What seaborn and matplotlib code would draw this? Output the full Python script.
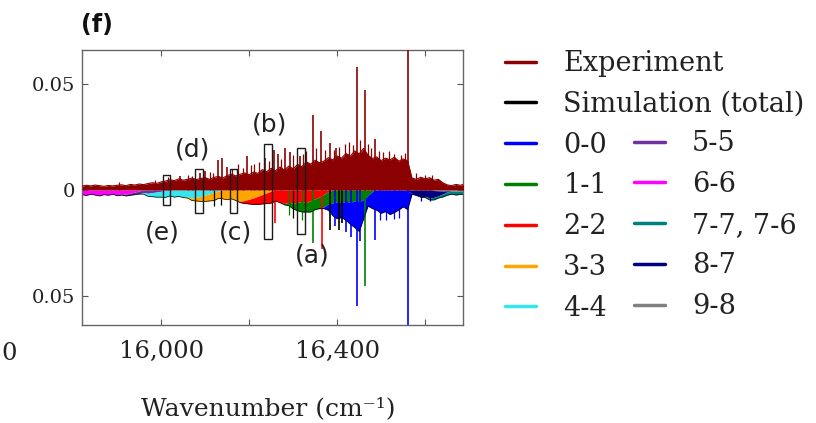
import numpy as np
import pandas as pd
import matplotlib
matplotlib.use("Agg")
import matplotlib.pyplot as plt
import seaborn as sns
from matplotlib.lines import Line2D
from matplotlib.patches import Rectangle

# ---------------- data ----------------
wavenumber = [
    15820, 15830, 15840, 15850, 15860, 15870, 15880, 15890, 15900, 15910,
    15920, 15930, 15940, 15950, 15960, 15970, 15980, 15990, 16000, 16010,
    16020, 16030, 16040, 16050, 16060, 16070, 16080, 16090, 16100, 16110,
    16120, 16130, 16140, 16150, 16160, 16170, 16180, 16190, 16200, 16210,
    16220, 16230, 16240, 16250, 16260, 16270, 16280, 16290, 16300, 16310,
    16320, 16330, 16340, 16350, 16360, 16370, 16380, 16390, 16400, 16410,
    16420, 16430, 16440, 16450, 16460, 16470, 16480, 16490, 16500, 16510,
    16520, 16530, 16540, 16550, 16560, 16570, 16580, 16590, 16600, 16610,
    16620, 16630, 16640, 16650, 16660, 16670, 16680, 16690]

# experimental envelope (x 1e-3)
experiment = [
    1.8, 2.2, 1.9, 2.3, 2.0, 1.7, 2.1, 1.9, 2.2,
    2.4, 2.0, 2.6, 2.3, 2.8, 2.5, 3.0, 3.4, 3.1, 3.8,
    4.2, 4.8, 4.4, 5.2, 4.6, 5.0, 5.6, 4.9, 5.4, 5.8,
    5.0, 5.9, 6.4, 5.6, 6.8, 7.4, 6.6, 7.4, 8.0, 7.2,
    8.4, 7.8, 9.6, 8.6, 10.2, 9.0, 10.8, 9.4, 11.2, 10.0,
    12.0, 11.0, 13.2, 12.2, 14.0, 12.8, 13.6, 15.2, 14.2, 16.0,
    15.0, 17.2, 16.0, 18.4, 17.0, 19.6, 16.4, 14.8, 15.6, 13.8,
    15.0, 14.2, 15.4, 13.6, 14.6, 13.8,
    5.6, 5.0, 6.0, 5.2, 5.8, 4.6, 5.0, 3.4,
    2.4, 2.0, 2.6, 2.2, 2.8]

# sharp experimental lines: position, height (x 1e-3)
exp_line_pos = [16043, 16088, 16100, 16129, 16138, 16150, 16195, 16236, 16256,
                16265, 16281, 16293, 16315, 16345, 16363, 16384, 16398, 16445,
                16463, 16486, 16561]
exp_line_val = [6.6, 8.0, 9.0, 14.0, 15.0, 11.0, 16.0, 15.0, 19.0,
                17.0, 20.0, 18.0, 16.0, 35.5, 28.0, 22.0, 20.0, 58.0,
                47.0, 24.0, 90.0]
# weaker experimental lines (x 1e-3)
exp_weak_pos = [15905, 15985, 16015, 16060, 16070, 16110, 16118, 16160, 16175,
                16185, 16205, 16212, 16222, 16245, 16272, 16300, 16322, 16330,
                16352, 16372, 16392, 16405, 16418, 16428, 16437, 16452, 16470,
                16478, 16495, 16505, 16518, 16530, 16545, 16555, 16580, 16600,
                16615]
exp_weak_val = [3.6, 4.6, 6.0, 7.0, 6.8, 8.6, 8.0, 10.0, 12.0,
                10.4, 11.6, 12.4, 13.0, 13.6, 14.6, 16.6, 17.0, 18.2,
                19.6, 18.8, 19.0, 20.4, 21.6, 22.8, 21.0, 23.6, 21.8,
                19.6, 18.6, 18.0, 18.2, 17.0, 16.4, 17.2, 8.0, 7.2,
                7.0]

# simulated vibronic bands: start wavenumber and depth of each layer (x 1e-3)
band_labels = ["0-0", "1-1", "2-2", "3-3", "4-4",
               "5-5", "6-6", "7-7, 7-6", "8-7", "9-8"]
band_colors = ["#0000FF", "#008000", "#FF0000", "#FFA500", "#33E6F0",
               "#7030A0", "#FF00FF", "#008080", "#000080", "#808080"]
band_start = [16370, 16280, 16180, 16060, 15960,
              15900, 15820, 16600, 16560, 16620]
band_00 = [0.8, 3.0, 6.0, 8.0, 7.0, 9.0, 10.4, 12.6, 14.0, 9.0, 5.0,
           8.0, 9.6, 11.0, 10.2, 11.6, 10.6, 9.4, 8.0, 8.8, 0.4]
band_11 = [0.6, 1.6, 2.8, 4.0, 5.0, 4.4, 5.4, 5.0, 5.6, 6.0, 5.8,
           6.2, 5.6, 6.0, 5.4, 5.8, 5.2, 5.6, 4.6, 2.6, 0.8]
band_22 = [0.6, 1.4, 2.2, 3.0, 3.8, 4.4, 5.0, 5.6, 5.2, 6.0, 6.4,
           5.8, 6.2, 5.8, 5.4, 6.0, 5.0, 4.2, 3.2, 2.0, 0.8]
band_33 = [0.6, 1.2, 1.8, 2.4, 3.0, 3.4, 3.8, 3.4, 4.2, 4.6,
           4.2, 5.0, 5.4, 5.0, 4.4, 3.8, 3.0, 2.2, 1.4, 0.6]
band_44 = [0.8, 1.4, 2.0, 2.4, 2.8, 3.2, 2.8, 3.4, 3.0,
           3.6, 3.2, 3.8, 3.4, 3.0, 2.4, 1.8, 1.2, 0.6]
band_55 = [0.4, 0.6, 0.8, 1.0, 1.2, 1.4, 1.2, 1.6, 1.2, 1.0, 0.6, 0.3]
band_66 = [2.2, 2.6, 2.0, 2.4, 2.8, 2.2, 2.5, 2.0, 2.3, 1.8, 2.0, 1.5, 1.0, 0.5]
band_77 = [0.6, 0.9, 1.2, 1.0, 1.4, 1.6, 1.4, 1.8, 1.6, 1.5]
band_87 = [0.4, 1.6, 2.6, 3.4, 3.0, 3.8, 3.2, 2.4, 1.4, 0.5]
band_98 = [0.3, 0.4, 0.5, 0.4, 0.6, 0.6, 0.5, 0.6]
band_values = [band_00, band_11, band_22, band_33, band_44,
               band_55, band_66, band_77, band_87, band_98]

# sharp simulated lines: position, depth (x 1e-3), band index (-1 = total)
sim_line_pos = [16445, 16463, 16345, 16366, 16486, 16561, 16384, 16411, 16259,
                16120, 16135, 16290, 16300, 16320, 16395, 16405, 16420, 16432,
                16452, 16497, 16512, 16530, 16540, 16590, 16610]
sim_line_val = [54.7, 45.3, 25.0, 28.0, 23.6, 90.0, 19.0, 15.6, 15.6,
                7.6, 7.0, 12.0, 13.0, 14.0, 17.0, 19.0, 20.0, 22.0,
                24.0, 14.0, 14.4, 13.6, 13.0, 5.0, 5.4]
sim_line_band = [0, 1, 1, 2, 0, 0, -1, -1, 2,
                 -1, -1, 1, -1, 1, 0, -1, 0, 0,
                 0, 0, 0, 0, 0, 8, 8]

# highlighted regions (a)-(e): x0, width, top/bottom (x 1e-3)
box_labels = ["(a)", "(b)", "(c)", "(d)", "(e)"]
box_x0 = [16309, 16234, 16157, 16077, 16004]
box_w = [18, 18, 16, 18, 16]
box_top = [19.8, 21.7, 9.9, 9.9, 7.1]
box_bot = [-20.8, -23.1, -10.9, -10.9, -7.1]
box_label_x = [16343, 16247, 16168, 16072, 16002]
box_label_y = [-31.1, 30.7, -20.3, 18.9, -20.3]

xticks = [16000, 16200, 16400, 16600]
xtick_labels = ["16,000", "", "16,400", ""]
yticks = [-0.05, 0.0, 0.05]
ytick_labels = ["0.05", "0", "0.05"]

# ---------------- build frames ----------------
x = np.array(wavenumber, dtype=float)
scale = 1e-3
df_exp = pd.DataFrame({"wn": x, "I": np.array(experiment) * scale})

layers = {}
for lab, st, vals in zip(band_labels, band_start, band_values):
    arr = np.zeros(len(x))
    i0 = wavenumber.index(st)
    arr[i0:i0 + len(vals)] = np.array(vals) * scale
    layers[lab] = arr
total = -sum(layers.values())
df_tot = pd.DataFrame({"wn": x, "I": total})

# ---------------- figure ----------------
sns.set_theme(style="ticks")
plt.rcParams["font.family"] = ["DejaVu Serif", "DejaVu Sans"]
W, H = 816, 423
fig = plt.figure(figsize=(W / 100, H / 100), dpi=100)
ax = fig.add_axes([82 / W, 1 - 325 / H, (463 - 82) / W, (325 - 50) / H])

EXP = "#8B0000"
# experiment
ax.fill_between(df_exp["wn"], 0, df_exp["I"], color=EXP, lw=0, zorder=3)
sns.lineplot(data=df_exp, x="wn", y="I", color=EXP, lw=0.8,
             estimator=None, ax=ax, zorder=3)
ax.vlines(exp_line_pos, 0, np.array(exp_line_val) * scale, colors=EXP,
          lw=1.2, zorder=3)
ax.vlines(exp_weak_pos, 0, np.array(exp_weak_val) * scale, colors=EXP,
          lw=0.9, zorder=3)

# simulation: stacked layers, highest band nearest zero
order = list(range(len(band_labels)))[::-1]
upper = np.zeros(len(x))
for k in order:
    lower = upper - layers[band_labels[k]]
    ax.fill_between(x, upper, lower, color=band_colors[k], lw=0, zorder=2)
    upper = lower
sns.lineplot(data=df_tot, x="wn", y="I", color="black", lw=0.5,
             estimator=None, ax=ax, zorder=2.5)
for p, v, b in zip(sim_line_pos, sim_line_val, sim_line_band):
    c = "black" if b < 0 else band_colors[b]
    lw = 1.2 if v > 15 else 0.9
    ax.vlines(p, 0, -v * scale, colors=c, lw=lw, zorder=2.4)

# boxes
for lab, x0, w, yt, yb, lx, ly in zip(box_labels, box_x0, box_w, box_top,
                                       box_bot, box_label_x, box_label_y):
    ax.add_patch(Rectangle((x0, yb * scale), w, (yt - yb) * scale, fill=False,
                           ec="#1a1a1a", lw=1.0, zorder=6))
    ax.text(lx, ly * scale, lab, ha="center", va="center", fontsize=18,
            family="DejaVu Sans", color="#222222", zorder=7)

ax.set_xlim(15820, 16686)
ax.set_ylim(-0.0637, 0.0660)
ax.set_xticks(xticks)
ax.set_xticklabels(xtick_labels, fontsize=17.5, color="#222222")
ax.set_yticks(yticks)
ax.set_yticklabels(ytick_labels, fontsize=14, color="#222222")
ax.tick_params(axis="both", direction="in", top=True, right=True, length=4,
               width=0.8, color="#555555")
ax.tick_params(axis="x", pad=11)
ax.tick_params(axis="y", pad=5)
for s in ax.spines.values():
    s.set_color("#666666")
    s.set_linewidth(1.0)
ax.set_xlabel("Wavenumber (cm\u207b\u00b9)", fontsize=18, color="#222222")
ax.xaxis.set_label_coords(0.488, -0.262)
ax.xaxis.label.set_va("top")
ax.set_ylabel("")

# last digit of the neighbouring panel's tick label at the left edge
fig.text(1 / W, 1 - 353 / H, "0", ha="left", va="center",
         fontsize=17.5, color="#222222")
# panel tag
fig.text(97 / W, 1 - 25 / H, "(f)", ha="center", va="center", fontsize=17,
         fontweight="bold", family="DejaVu Sans", color="#111111")

# legends
col1_labels = ["Experiment", "Simulation (total)"] + band_labels[:5]
col1_colors = [EXP, "black"] + band_colors[:5]
col2_labels = band_labels[5:]
col2_colors = band_colors[5:]
leg_kw = dict(loc="upper left", bbox_transform=fig.transFigure, frameon=False,
              fontsize=19.5, handlelength=1.15, handletextpad=1.0,
              labelspacing=0.51, borderpad=0, borderaxespad=0)
h1 = [Line2D([], [], color=c, lw=2.5) for c in col1_colors]
leg1 = fig.legend(h1, col1_labels, bbox_to_anchor=(505 / W, 1 - 50 / H), **leg_kw)
h2 = [Line2D([], [], color=c, lw=2.5) for c in col2_colors]
leg2 = fig.legend(h2, col2_labels, bbox_to_anchor=(634 / W, 1 - 130 / H), **leg_kw)
for leg in (leg1, leg2):
    for t in leg.get_texts():
        t.set_color("#222222")

fig.savefig("out.png", dpi=100)
